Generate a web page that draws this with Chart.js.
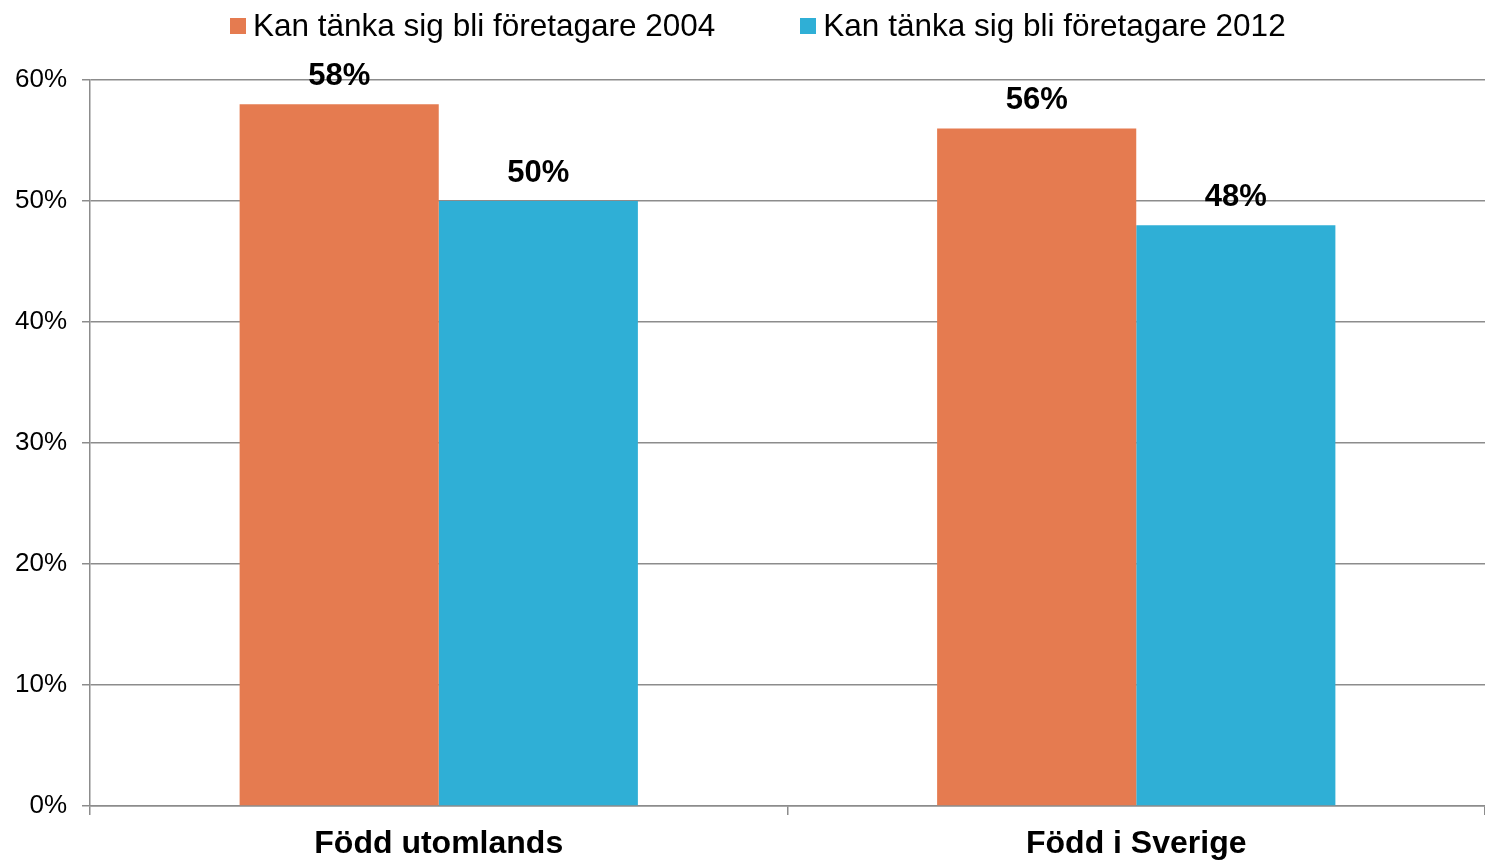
<!DOCTYPE html>
<html lang="sv">
<head>
    <meta charset="UTF-8">
    <title>Kan tänka sig bli företagare</title>
    <script src="https://cdn.jsdelivr.net/npm/chart.js@4.4.1/dist/chart.umd.min.js"></script>
    <style>
        body {
            margin: 0;
            background: #ffffff;
            font-family: 'Liberation Sans', Arial, sans-serif;
        }
        .wrap {
            position: relative;
            width: 1485px;
            height: 860px;
        }
        canvas {
            display: block;
        }
        #legend {
            position: absolute;
            top: 7px;
            left: 230px;
            display: flex;
            align-items: center;
            font-size: 31.5px;
            color: #000;
            white-space: nowrap;
        }
        #legend .item {
            display: flex;
            align-items: center;
            margin-right: 85px;
        }
        #legend .box {
            width: 16px;
            height: 16px;
            margin-right: 7px;
        }
    </style>
</head>
<body>
    <div class="wrap">
        <div id="legend"></div>
        <canvas id="chart" width="1485" height="860"></canvas>
    </div>

    <script>
        // data
        const categories = ['Född utomlands', 'Född i Sverige'];
        const seriesNames = ['Kan tänka sig bli företagare 2004', 'Kan tänka sig bli företagare 2012'];
        const values2004 = [58, 56];
        const values2012 = [50, 48];
        const seriesColors = ['#E57B50', '#2FAFD6'];

        // legend in html so the spacing matches
        const legendEl = document.getElementById('legend');
        seriesNames.forEach((name, i) => {
            const item = document.createElement('div');
            item.className = 'item';
            const box = document.createElement('span');
            box.className = 'box';
            box.style.background = seriesColors[i];
            const txt = document.createElement('span');
            txt.textContent = name;
            item.appendChild(box);
            item.appendChild(txt);
            legendEl.appendChild(item);
        });

        // percent labels above the bars
        const barLabels = {
            id: 'barLabels',
            afterDatasetsDraw(chart) {
                const ctx = chart.ctx;
                ctx.save();
                ctx.font = 'bold 31px "Liberation Sans", Arial, sans-serif';
                ctx.fillStyle = '#000';
                ctx.textAlign = 'center';
                ctx.textBaseline = 'middle';
                chart.data.datasets.forEach((ds, di) => {
                    chart.getDatasetMeta(di).data.forEach((bar, i) => {
                        ctx.fillText(ds.data[i] + '%', bar.x, bar.y - 28);
                    });
                });
                ctx.restore();
            }
        };

        const gridColor = '#8c8c8c';

        new Chart(document.getElementById('chart'), {
            type: 'bar',
            data: {
                labels: categories,
                datasets: [
                    { label: seriesNames[0], data: values2004, backgroundColor: seriesColors[0] },
                    { label: seriesNames[1], data: values2012, backgroundColor: seriesColors[1] }
                ]
            },
            options: {
                responsive: false,
                animation: false,
                layout: { padding: { top: 80, right: 0, bottom: 0, left: 0 } },
                datasets: {
                    bar: { barPercentage: 1, categoryPercentage: 0.571 }
                },
                plugins: {
                    legend: { display: false },
                    tooltip: { enabled: false }
                },
                scales: {
                    x: {
                        afterFit(scale) { scale.height = 54; },
                        grid: {
                            offset: true,
                            drawOnChartArea: false,
                            color: gridColor,
                            lineWidth: 1.5,
                            tickLength: 9
                        },
                        border: { color: gridColor, width: 1.5 },
                        ticks: {
                            color: '#000',
                            padding: 13,
                            font: { family: '"Liberation Sans", Arial, sans-serif', size: 32, weight: 'bold', lineHeight: 1 }
                        }
                    },
                    y: {
                        min: 0,
                        max: 60,
                        afterFit(scale) { scale.width = 90; },
                        grid: {
                            color: gridColor,
                            lineWidth: 1.5,
                            tickLength: 8
                        },
                        border: { color: gridColor, width: 1.5 },
                        ticks: {
                            stepSize: 10,
                            color: '#000',
                            padding: 15,
                            font: { family: '"Liberation Sans", Arial, sans-serif', size: 26 },
                            callback: v => v + '%'
                        }
                    }
                }
            },
            plugins: [barLabels]
        });
    </script>
</body>
</html>
